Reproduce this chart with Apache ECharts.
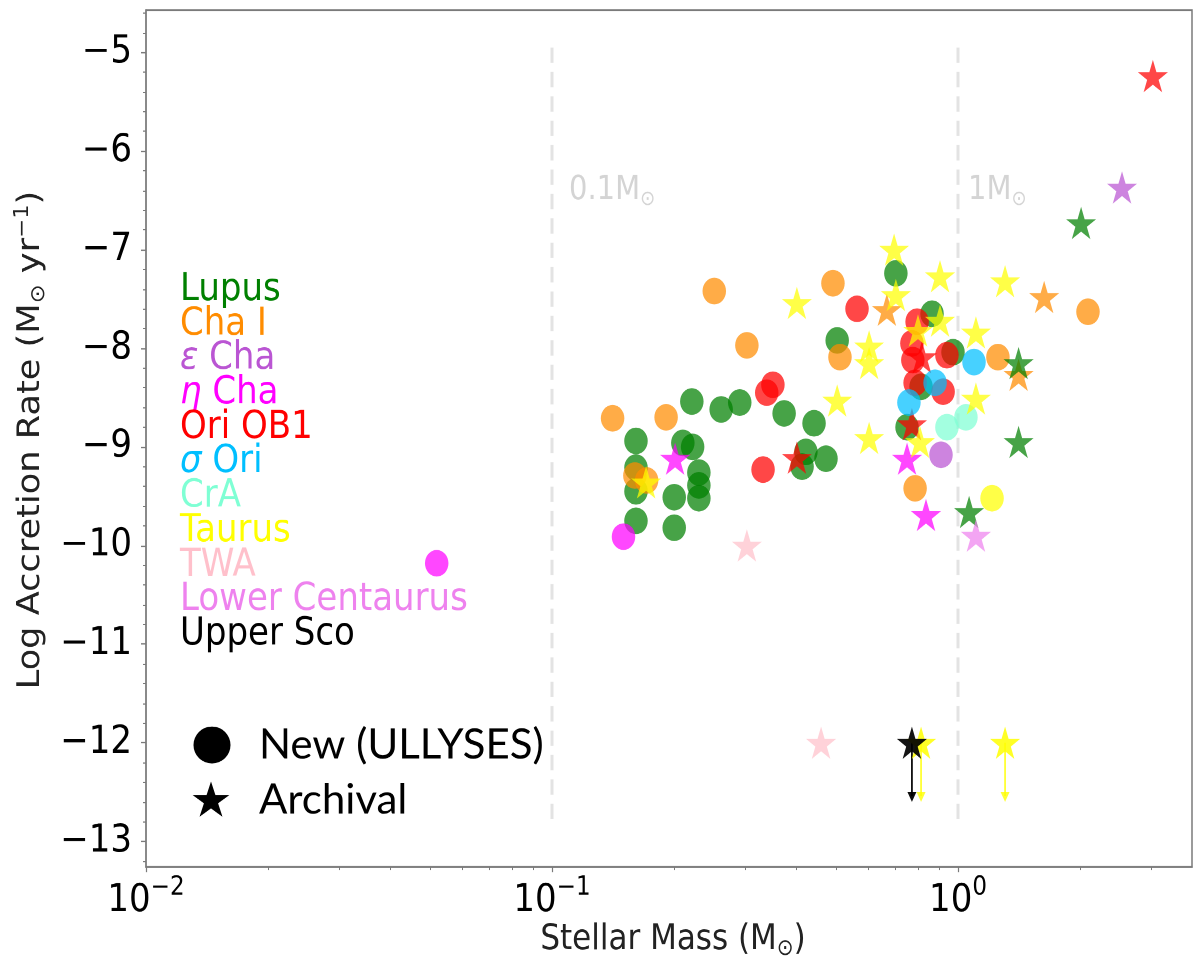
<!DOCTYPE html>
<html>
<head>
<meta charset="utf-8">
<script src="https://cdn.jsdelivr.net/npm/echarts@6/dist/echarts.min.js"></script>
<style>
  html, body { margin: 0; padding: 0; background: #ffffff; overflow: hidden; }
  #page { width: 1196px; height: 961px; position: relative; }
  /* the figure is drawn at its native aspect and shown stretched vertically */
  #chart { width: 1196px; height: 847px; transform: scaleY(1.134593); transform-origin: 0 0; }
</style>
</head>
<body>
<div id="page"><div id="chart"></div></div>
<script>
// ---- Axis ticks ----
const xMajorTicks = [0.01, 0.1, 1];
const xMinorTicks = [0.02, 0.03, 0.04, 0.05, 0.06, 0.07, 0.08, 0.09,
                     0.2, 0.3, 0.4, 0.5, 0.6, 0.7, 0.8, 0.9, 2, 3];
const yMajorTicks = [-13, -12, -11, -10, -9, -8, -7, -6, -5];
const yMinorTicks = [-13.2, -12.8, -12.6, -12.4, -12.2, -11.8, -11.6, -11.4, -11.2,
                     -10.8, -10.6, -10.4, -10.2, -9.8, -9.6, -9.4, -9.2,
                     -8.8, -8.6, -8.4, -8.2, -7.8, -7.6, -7.4, -7.2,
                     -6.8, -6.6, -6.4, -6.2, -5.8, -5.6, -5.4, -5.2, -4.8, -4.6];

// ---- Regions (name, colour) ----
const groupNames  = ['Lupus', 'Cha I', 'ε Cha', 'η Cha', 'Ori OB1', 'σ Ori', 'CrA',
                     'Taurus', 'TWA', 'Lower Centaurus', 'Upper Sco'];
const groupColors = ['#008000', '#ff8c00', '#ba55d3', '#ff00ff', '#ff0000', '#00bfff',
                     '#7fffd4', '#ffff00', '#ffc0cb', '#ee82ee', '#000000'];

// ---- Stellar mass (Msun), log accretion rate (Msun/yr) ----
const lupusNew = [
  [0.161, -8.94], [0.161, -9.21], [0.161, -9.45], [0.161, -9.75],
  [0.200, -9.51], [0.200, -9.82], [0.210, -8.96], [0.222, -9.00],
  [0.230, -9.26], [0.230, -9.39], [0.230, -9.52],
  [0.221, -8.54], [0.261, -8.62], [0.290, -8.55],
  [0.373, -8.66], [0.442, -8.76], [0.422, -9.05], [0.473, -9.12], [0.413, -9.20],
  [0.504, -7.92], [0.703, -7.24], [0.863, -7.65], [0.972, -8.04], [0.811, -8.39], [0.749, -8.80]
];
const lupusArchival = [[2.01, -6.73], [1.41, -8.95], [1.065, -9.66]];
const lupusArchivalTop = [[1.41, -8.15]];

const chaINew = [
  [0.141, -8.71], [0.191, -8.70], [0.160, -9.29], [0.171, -9.34], [0.251, -7.42],
  [0.302, -7.97], [0.492, -7.34], [0.512, -8.09], [0.784, -9.42], [1.254, -8.09], [2.09, -7.63]
];
const chaIArchival = [[0.668, -7.61], [1.63, -7.48], [1.41, -8.27]];

const epsChaNew = [[0.908, -9.08]];
const epsChaArchival = [[2.535, -6.37]];

const etaChaNew = [[0.150, -9.91], [0.052, -10.18]];
const etaChaArchival = [[0.201, -9.12], [0.749, -9.12], [0.834, -9.69]];

const oriOB1New = [
  [0.564, -7.60], [0.350, -8.37], [0.338, -8.45], [0.331, -9.23], [0.793, -7.73],
  [0.770, -7.95], [0.774, -8.12], [0.939, -8.07], [0.784, -8.35], [0.919, -8.44]
];
const oriOB1Archival = [[0.401, -9.11], [0.770, -8.77], [0.815, -8.09], [3.02, -5.24]];

const sigmaOriNew = [[1.095, -8.14], [0.878, -8.35], [0.757, -8.55]];

const crANew = [[1.046, -8.70], [0.939, -8.80]];

const taurusNew = [[1.213, -9.52]];
const taurusArchival = [
  [0.401, -7.54], [0.504, -8.53], [0.604, -7.98], [0.604, -8.15], [0.604, -8.91],
  [0.696, -7.00], [0.703, -7.46], [0.797, -7.82], [0.806, -8.95], [0.903, -7.27],
  [0.903, -7.72], [1.107, -7.84], [1.107, -8.51], [1.306, -7.32], [0.1705, -9.36]
];
const taurusUpperLimits = [[0.811, -12.0], [1.306, -12.0]];

const twaArchival = [[0.302, -10.0], [0.460, -12.0]];
const lowerCenArchival = [[1.107, -9.90]];
const upperScoUpperLimits = [[0.770, -12.0]];

// Reference masses marked by dashed guides
const massGuides = [0.1, 1];
const massGuideLabels = ['0.1M', '1M'];

// Marker-type key
const keyLabels = ['New (ULLYSES)', 'Archival'];

// ---- Styling constants ----
const SY = 961 / 847;                 // vertical stretch applied to the canvas
const py = v => v / SY;               // page pixel -> drawing pixel (vertical)
const FONT = '"DejaVu Sans", sans-serif';
const AXIS_COLOR = '#7a7a7a';
const MARK_ALPHA = 0.72;
const CIRCLE_SIZE = [23.5, 23.5];
const STAR_SIZE = [30, 28.5];
const LIMIT_DROP = 0.6;               // length of upper-limit arrows (dex)
const GUIDE_TOP = -4.95, GUIDE_BOTTOM = -12.85, GUIDE_LABEL_Y = -6.4;
const GUIDE_LABEL_DX = [17, 10];

// five-pointed star outline
function starPoints(cx, cy, R) {
  const pts = [];
  for (let i = 0; i < 10; i++) {
    const r = i % 2 ? 0.382 : 1;
    const a = Math.PI / 2 - i * Math.PI / 5;
    pts.push([cx + R * r * Math.cos(a), cy - R * r * Math.sin(a)]);
  }
  return pts;
}
const STAR = 'path://M' + starPoints(0, 0, 1).map(p => p[0].toFixed(4) + ',' + p[1].toFixed(4)).join('L') + 'Z';

function scatter(data, color, symbol, opts) {
  return Object.assign({
    type: 'scatter',
    data: data,
    symbol: symbol === 'star' ? STAR : 'circle',
    symbolSize: symbol === 'star' ? STAR_SIZE : CIRCLE_SIZE,
    itemStyle: { color: color, opacity: MARK_ALPHA },
    emphasis: { disabled: true },
    silent: true
  }, opts || {});
}

function limitArrows(data, color, alpha) {
  return {
    type: 'custom',
    data: data,
    encode: { x: 0, y: 1 },
    silent: true,
    z: 1,
    renderItem: function (params, api) {
      const x = api.value(0), y = api.value(1);
      const p0 = api.coord([x, y]);
      const p1 = api.coord([x, y - LIMIT_DROP]);
      const hh = py(10);
      return {
        type: 'group',
        children: [
          { type: 'line', shape: { x1: p0[0], y1: p0[1], x2: p1[0], y2: p1[1] - hh * 0.6 },
            style: { stroke: color, lineWidth: 1.8, opacity: alpha } },
          { type: 'polygon', shape: { points: [[p1[0] - 4.5, p1[1] - hh], [p1[0] + 4.5, p1[1] - hh], [p1[0], p1[1]]] },
            style: { fill: color, opacity: alpha } }
        ]
      };
    }
  };
}

const C = {};
groupNames.forEach((n, i) => { C[n] = groupColors[i]; });

const series = [
  // dashed guide lines at 0.1 and 1 solar masses
  {
    type: 'custom',
    data: massGuides.map(m => [m, GUIDE_TOP]),
    encode: { x: 0, y: 1 },
    silent: true,
    z: 0,
    renderItem: function (params, api) {
      const m = api.value(0);
      const top = api.coord([m, GUIDE_TOP]);
      const bot = api.coord([m, GUIDE_BOTTOM]);
      const lab = api.coord([m, GUIDE_LABEL_Y]);
      return {
        type: 'group',
        children: [
          { type: 'line', shape: { x1: top[0], y1: top[1], x2: bot[0], y2: bot[1] },
            style: { stroke: '#e3e3e3', lineWidth: 3, lineDash: [13.5, 8] } },
          { type: 'text', x: lab[0] + GUIDE_LABEL_DX[params.dataIndex], y: lab[1],
            style: {
              text: massGuideLabels[params.dataIndex] + '{sub|⊙}',
              fill: '#d4d4d4', font: '29px ' + FONT, verticalAlign: 'middle', align: 'left',
              rich: { sub: { fontSize: 18, fontFamily: FONT, fill: '#d4d4d4', lineHeight: 16, verticalAlign: 'bottom' } },
              lineHeight: 34
            } }
        ]
      };
    }
  },
  scatter(lupusNew, C['Lupus'], 'circle'),
  scatter(lupusArchival, C['Lupus'], 'star'),
  scatter(chaINew, C['Cha I'], 'circle'),
  scatter(chaIArchival, C['Cha I'], 'star'),
  scatter(lupusArchivalTop, C['Lupus'], 'star'),
  scatter(epsChaNew, C['ε Cha'], 'circle'),
  scatter(epsChaArchival, C['ε Cha'], 'star'),
  scatter(etaChaNew, C['η Cha'], 'circle'),
  scatter(etaChaArchival, C['η Cha'], 'star'),
  scatter(oriOB1New, C['Ori OB1'], 'circle'),
  scatter(oriOB1Archival, C['Ori OB1'], 'star'),
  scatter(sigmaOriNew, C['σ Ori'], 'circle'),
  scatter(crANew, C['CrA'], 'circle'),
  scatter(taurusNew, C['Taurus'], 'circle'),
  scatter(taurusArchival, C['Taurus'], 'star'),
  limitArrows(taurusUpperLimits, C['Taurus'], 0.8),
  scatter(taurusUpperLimits, C['Taurus'], 'star', { itemStyle: { color: C['Taurus'], opacity: 0.85 } }),
  scatter(twaArchival, C['TWA'], 'star'),
  scatter(lowerCenArchival, C['Lower Centaurus'], 'star'),
  limitArrows(upperScoUpperLimits, C['Upper Sco'], 0.95),
  scatter(upperScoUpperLimits, C['Upper Sco'], 'star', { itemStyle: { color: '#000000', opacity: 0.92 } })
];

// region names, stacked in their colours
const LABEL_LEFT = 180, LABEL_MID = 290, LABEL_STEP = 34.45;
const groupLabels = groupNames.map((n, i) => {
  const greek = /^[εησ] /.test(n);
  return {
    type: 'text',
    x: LABEL_LEFT,
    y: py(LABEL_MID + i * LABEL_STEP),
    silent: true,
    style: {
      text: greek ? '{i|' + n.charAt(0) + '}' + n.slice(1) : n,
      fill: groupColors[i],
      font: '34px ' + FONT,
      verticalAlign: 'middle',
      lineHeight: 28,
      rich: { i: { fontStyle: 'italic', fontSize: 34, fontFamily: FONT, fill: groupColors[i], lineHeight: 28 } }
    }
  };
});

const nameRich = {
  sub: { fontSize: 20, fontFamily: FONT, fill: '#222', lineHeight: 18, verticalAlign: 'bottom' },
  sup: { fontSize: 20, fontFamily: FONT, fill: '#222', lineHeight: 18, verticalAlign: 'top' }
};

// axis titles
const axisTitles = [
  { type: 'text', x: 673, y: py(940), silent: true,
    style: { text: 'Stellar Mass (M{sub|⊙})', font: '31px ' + FONT, fill: '#222',
             align: 'center', verticalAlign: 'middle', lineHeight: 36, rich: nameRich } },
  { type: 'text', x: 31, y: py(440), rotation: Math.PI / 2, silent: true,
    style: { text: 'Log Accretion Rate (M{sub|⊙} yr{sup|−1})', font: '31px ' + FONT, fill: '#222',
             align: 'center', verticalAlign: 'middle', lineHeight: 36, rich: nameRich } }
];

// marker-type key (drawn unstretched)
const KEY_FONT = '42px Lato, "Open Sans", sans-serif';
const markerKey = {
  type: 'group', x: 0, y: 0, scaleY: 1 / SY, silent: true,
  children: [
    { type: 'circle', shape: { cx: 212, cy: 745, r: 18.5 }, style: { fill: '#000' } },
    { type: 'polygon', shape: { points: starPoints(211, 801, 19.5) }, style: { fill: '#000' } },
    { type: 'text', x: 259, y: 745, style: { text: keyLabels[0], font: KEY_FONT, fill: '#000', verticalAlign: 'middle' } },
    { type: 'text', x: 259, y: 800, style: { text: keyLabels[1], font: KEY_FONT, fill: '#000', verticalAlign: 'middle' } }
  ]
};

const supRich = {
  b: { fontSize: 34, fontFamily: FONT, color: '#000', lineHeight: 40, verticalAlign: 'bottom' },
  sup: { fontSize: 23, fontFamily: FONT, color: '#000', lineHeight: 22, verticalAlign: 'top' }
};

const X_MIN = 0.01, X_MAX = 3.77, Y_MIN = -13.26, Y_MAX = -4.57;

const option = {
  backgroundColor: '#ffffff',
  animation: false,
  grid: {
    left: 146, right: 4, top: py(10), bottom: 847 - py(867),
    show: true, borderColor: AXIS_COLOR, borderWidth: 1.5, backgroundColor: 'transparent'
  },
  xAxis: [
    {
      type: 'log', logBase: 10, min: X_MIN, max: X_MAX,
      axisLine: { lineStyle: { color: AXIS_COLOR, width: 1.5 } },
      axisTick: { customValues: xMajorTicks, length: 4.5, lineStyle: { color: AXIS_COLOR, width: 1.2 } },
      axisLabel: {
        customValues: xMajorTicks, margin: 7,
        formatter: v => '{b|10}{sup|' + String(Math.round(Math.log10(v))).replace('-', '−') + '}',
        rich: supRich
      },
      splitLine: { show: false }
    },
    {
      type: 'log', logBase: 10, min: X_MIN, max: X_MAX, position: 'bottom',
      axisLine: { show: false },
      axisTick: { customValues: xMinorTicks, length: 2.8, lineStyle: { color: AXIS_COLOR, width: 1 } },
      axisLabel: { show: false },
      splitLine: { show: false }
    }
  ],
  yAxis: [
    {
      type: 'value', min: Y_MIN, max: Y_MAX,
      axisLine: { show: true, lineStyle: { color: AXIS_COLOR, width: 1.5 } },
      axisTick: { show: true, customValues: yMajorTicks, length: 5, lineStyle: { color: AXIS_COLOR, width: 1.2 } },
      axisLabel: {
        customValues: yMajorTicks, margin: 14,
        fontSize: 34, fontFamily: FONT, color: '#000',
        formatter: v => '−' + Math.abs(v)
      },
      splitLine: { show: false }
    },
    {
      type: 'value', min: Y_MIN, max: Y_MAX, position: 'left',
      axisLine: { show: false },
      axisTick: { show: true, customValues: yMinorTicks, length: 3, lineStyle: { color: AXIS_COLOR, width: 1 } },
      axisLabel: { show: false },
      splitLine: { show: false }
    }
  ],
  graphic: groupLabels.concat(axisTitles, [markerKey]),
  series: series
};

const chart = echarts.init(document.getElementById('chart'), null, { renderer: 'canvas', devicePixelRatio: 2 });
chart.setOption(option);
</script>
</body>
</html>
